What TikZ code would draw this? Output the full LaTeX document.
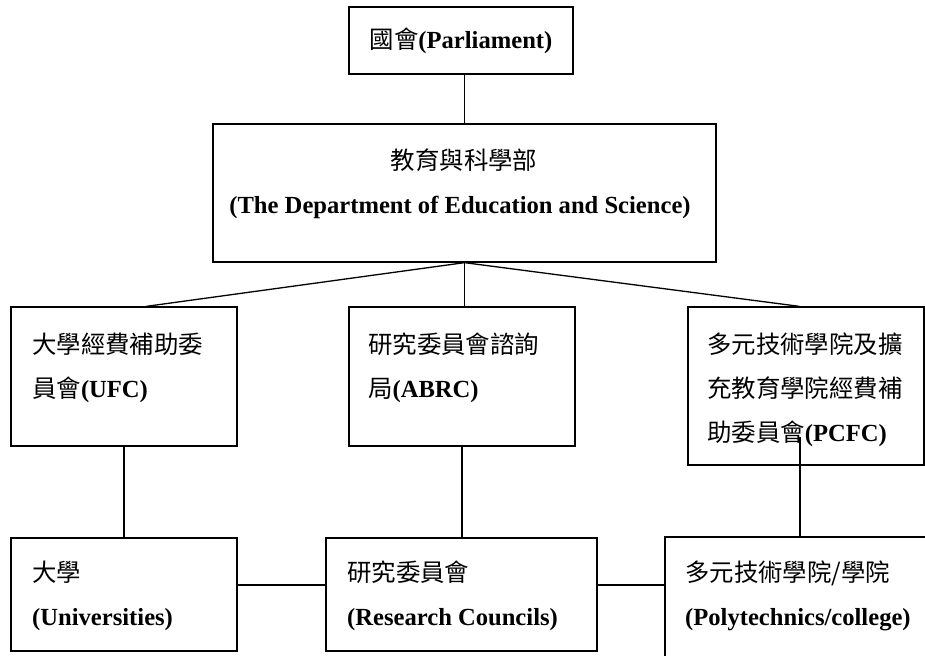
\documentclass[tikz,border=0pt]{standalone}
\usepackage{fontspec}
\setmainfont{Liberation Serif}
\newfontfamily\cjkfont{Noto Sans CJK TC}
\newcommand{\zhtext}[1]{{\cjkfont\fontsize{24.4}{44}\selectfont #1}}
\newcommand{\entext}[1]{{\bfseries\fontsize{24.6}{44}\selectfont #1}}
\begin{document}
\begin{tikzpicture}[x=1pt,y=-1pt,
  box/.style={draw=black, line width=1.3pt, rectangle, inner sep=0pt, fill=none},
  txt/.style={anchor=base west, inner sep=0pt, font=\fontsize{24}{44}\selectfont},
  ctxt/.style={inner sep=0pt, font=\fontsize{24}{44}\selectfont},
  link/.style={draw=black, line width=1.3pt}]
\useasboundingbox (0,0) rectangle (925,655);
\fill[white] (0,0) rectangle (925,655);

% boxes
\node[box, minimum width=224pt, minimum height=67pt] (par) at (461,40.5) {};
\node[box, minimum width=503pt, minimum height=138pt] (des) at (464.5,193) {};
\node[box, minimum width=226pt, minimum height=139pt] (ufc) at (124,376.5) {};
\node[box, minimum width=226pt, minimum height=139pt] (abrc) at (462,376.5) {};
\node[box, minimum width=236pt, minimum height=158pt] (pcfc) at (806,386) {};
\node[box, minimum width=226pt, minimum height=113pt] (univ) at (124,594.5) {};
\node[box, minimum width=271pt, minimum height=113pt] (rc) at (461.5,594.5) {};
\node[box, minimum width=270pt, minimum height=128pt] (poly) at (800,601) {};

% texts
\node[ctxt] (partxt) at (461,41) {\zhtext{國會}\entext{(Parliament)}};
\node[ctxt, anchor=base] (des1) at (464,169) {\zhtext{教育與科學部}};
\node[ctxt, anchor=base] (des2) at (460,213) {\entext{(The Department of Education and Science)}};

\node[txt] (ufc1) at (32,353) {\zhtext{大學經費補助委}};
\node[txt] (ufc2) at (32,397) {\zhtext{員會}\entext{(UFC)}};

\node[txt] (abrc1) at (368,353) {\zhtext{研究委員會諮詢}};
\node[txt] (abrc2) at (368,397) {\zhtext{局}\entext{(ABRC)}};

\node[txt] (pcfc1) at (707,353) {\zhtext{多元技術學院及擴}};
\node[txt] (pcfc2) at (707,397) {\zhtext{充教育學院經費補}};
\node[txt] (pcfc3) at (707,441) {\zhtext{助委員會}\entext{(PCFC)}};

\node[txt] (univ1) at (32,581) {\zhtext{大學}};
\node[txt] (univ2) at (32,625) {\entext{(Universities)}};

\node[txt] (rc1) at (347,581) {\zhtext{研究委員會}};
\node[txt] (rc2) at (347,625) {\entext{(Research Councils)}};

\node[txt] (poly1) at (685,581) {\zhtext{多元技術學院/學院}};
\node[txt] (poly2) at (685,625) {\entext{(Polytechnics/college)}};

% connectors
\draw[link] (des.north |- par.south) -- (des.north);
\draw[link] (des.south) -- ([xshift=136pt]ufc.north west);
\draw[link] (des.south) -- (des.south |- abrc.north);
\draw[link] (des.south) -- ([xshift=112pt]pcfc.north west);
\draw[link] (ufc.south) -- (univ.north);
\draw[link] (abrc.south) -- (abrc.south |- rc.north);
\coordinate (pstart) at (800,437);
\draw[link] (pstart) -- (pstart |- poly.north);
\draw[link] ([yshift=9.5pt]univ.east) -- ([yshift=9.5pt]univ.east -| rc.west);
\draw[link] ([yshift=9.5pt]rc.east) -- ([yshift=9.5pt]rc.east -| poly.west);
\end{tikzpicture}
\end{document}
